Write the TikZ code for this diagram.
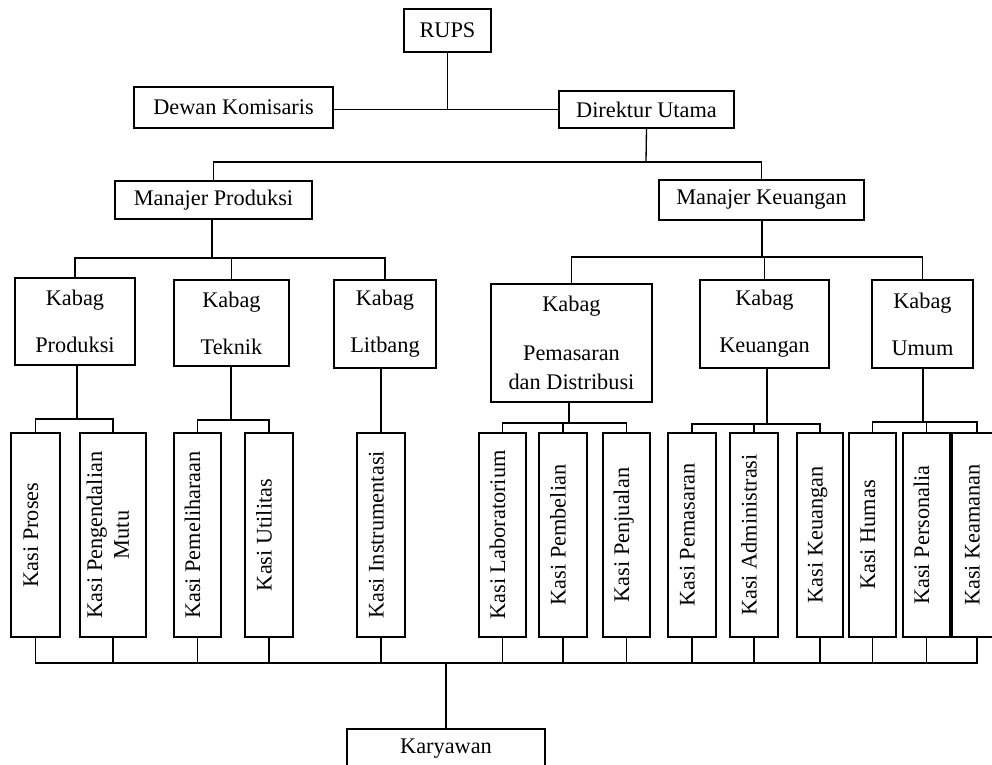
\documentclass[tikz,border=0pt]{standalone}
\usepackage{fontspec}
\setmainfont{Liberation Serif}
\usepackage{graphicx}
\newcommand{\pxu}{0.02cm}
\newcommand{\kasitext}[1]{
	\rotatebox{90}{\begin{tabular}{@{}c@{}}#1\end{tabular}}
}
\tikzset{
	jabatan/.style={draw, line width=0.85pt, inner sep=0pt, align=center, font=\fontsize{12.7}{15.2}\selectfont},
	garis/.style={line width=0.75pt},
}

\begin{document}
\begin{tikzpicture}[x=\pxu, y=-\pxu]

\useasboundingbox (0,0) rectangle (992,765);
\clip (0,0) rectangle (992,765);

\node[jabatan, minimum width=87*\pxu, minimum height=43*\pxu] (rups) at (447.5,30.5) {RUPS};
\node[jabatan, minimum width=199*\pxu, minimum height=41*\pxu] (dk) at (233.5,107.5) {Dewan Komisaris};
\node[jabatan, minimum width=175*\pxu, minimum height=37*\pxu] (du) at (646.5,109.5) {Direktur Utama};
\node[jabatan, minimum width=197*\pxu, minimum height=38*\pxu] (mp) at (213.5,200) {Manajer Produksi};
\node[jabatan, minimum width=205*\pxu, minimum height=40*\pxu] (mk) at (761.5,200) {Manajer Keuangan};

\draw[garis] (dk.east |- du.west) -- (du.west);
\draw[garis] (rups.south) -- (rups.south |- du.west);

\coordinate (bdir) at (646,162);
\draw[garis] (du.south) -- (bdir);
\draw[garis] (mp.north) |- (bdir);
\draw[garis] (mk.north) |- (bdir);

\node[jabatan, minimum width=120*\pxu, minimum height=87*\pxu] (kprod) at (75,321.5) {Kabag\\[11.6pt]Produksi};
\node[jabatan, minimum width=115*\pxu, minimum height=86*\pxu] (ktek) at (231.5,323) {Kabag\\[11.6pt]Teknik};
\node[jabatan, minimum width=102*\pxu, minimum height=88*\pxu] (klit) at (385,324) {Kabag\\[11.6pt]Litbang};
\node[jabatan, minimum width=161*\pxu, minimum height=118*\pxu] (kpem) at (571.5,343) {Kabag\\[12.6pt]Pemasaran\\[1.8pt]dan Distribusi};
\node[jabatan, minimum width=129*\pxu, minimum height=88*\pxu] (kkeuangan) at (764.5,324) {Kabag\\[11.6pt]Keuangan};
\node[jabatan, minimum width=101*\pxu, minimum height=88*\pxu] (kumum) at (922.5,324) {Kabag\\[11.6pt]Umum};

\coordinate (bmp) at (212,258);
\draw[garis] (bmp |- mp.south) -- (bmp);
\foreach \k in {kprod,ktek,klit}
	\draw[garis] (\k.north) |- (bmp);

\coordinate (bmk) at (762,257);
\draw[garis] (bmk |- mk.south) -- (bmk);
\foreach \k in {kpem,kkeuangan,kumum}
	\draw[garis] (\k.north) |- (bmk);

\coordinate (bprod) at (77,419);
\coordinate (btek) at (231,420);
\coordinate (blit) at (381,420);
\coordinate (bpem) at (569,423);
\coordinate (bkeu) at (767,424);
\coordinate (bumum) at (923,422);
\foreach \k/\b in {kprod/bprod,ktek/btek,klit/blit,kpem/bpem,kkeuangan/bkeu,kumum/bumum}
	\draw[garis] (\b |- \k.south) -- (\b);

\node[jabatan, minimum width=198*\pxu, minimum height=40*\pxu] (kry) at (446,749) {Karyawan};
\coordinate (bbawah) at (446,663);
\draw[garis] (kry.north) -- (bbawah);

\foreach \n/\x/\w/\b/\t in {
	kproses/35.5/49/bprod/{Kasi Proses},
	kmutu/113/66/bprod/{Kasi Pengendalian\\Mutu},
	kpemel/197.5/47/btek/{Kasi Pemeliharaan},
	kutil/269/48/btek/{Kasi Utilitas},
	kinstr/381/48/blit/{Kasi Instrumentasi},
	klab/502.5/47/bpem/{Kasi Laboratorium},
	kbeli/563/48/bpem/{Kasi Pembelian},
	kjual/626.5/47/bpem/{Kasi Penjualan},
	kpemas/692/48/bkeu/{Kasi Pemasaran},
	kadm/754/48/bkeu/{Kasi Administrasi},
	kkeu/820/46/bkeu/{Kasi Keuangan},
	khumas/872.5/47/bumum/{Kasi Humas},
	kpers/926.5/47/bumum/{Kasi Personalia},
	kaman/977/50/bumum/{Kasi Keamanan}} {
	\node[jabatan, minimum width=\w*\pxu, minimum height=204*\pxu] (\n) at (\x,535) {\kasitext{\t}};
	\draw[garis] (\n.north) |- (\b);
	\draw[garis] (\n.south) |- (bbawah);
}

\end{tikzpicture}
\end{document}
